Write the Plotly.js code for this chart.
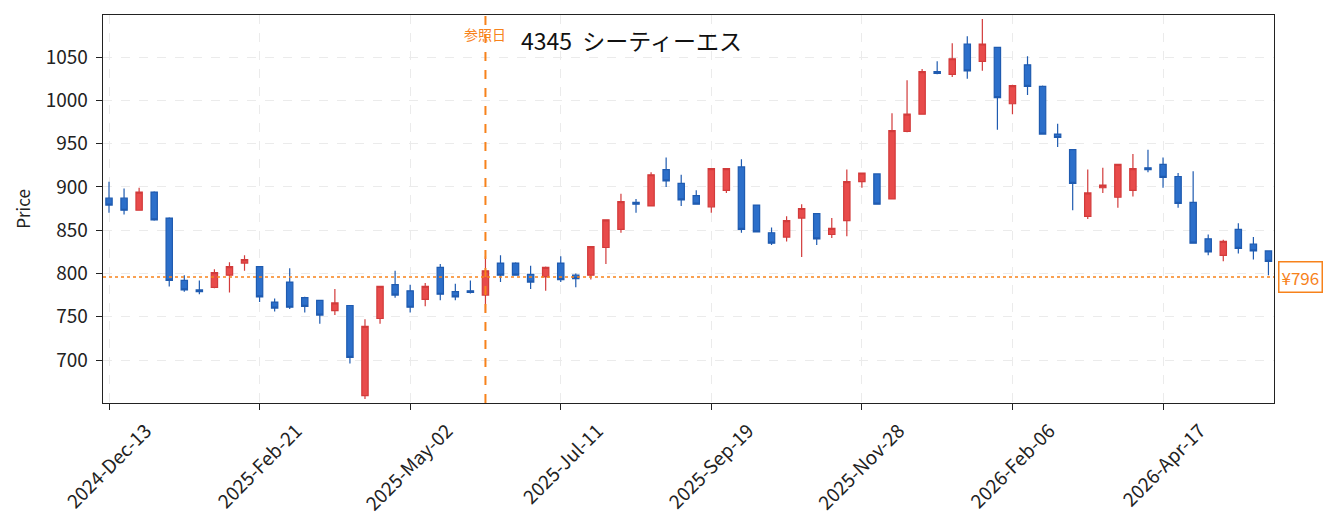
<!DOCTYPE html>
<html>
<head>
<meta charset="utf-8">
<script src="https://cdn.plot.ly/plotly-3.0.1.min.js"></script>
<style>
  html, body { margin: 0; padding: 0; background: #fff; }
  #chart { width: 1339px; height: 531px; }
</style>
</head>
<body>
<div id="chart"></div>
<script>
// weekly candles, first week ending 2024-12-13
const firstWeek = '2024-12-13';
const weekCount = 78;

const openPrices = [887, 887, 873, 894, 864, 792, 781, 784, 798, 812,
  808, 767, 790, 772, 769, 757, 763, 659, 748, 787,
  780, 770, 807, 779, 780, 775, 812, 812, 799, 796,
  812, 798, 798, 830, 851, 882, 878, 920, 904, 890,
  877, 896, 923, 879, 847, 842, 864, 869, 845, 861,
  906, 915, 886, 964, 984, 1033, 1030, 1065, 1045, 1061,
  996, 1041, 1016, 961, 943, 866, 899, 888, 896, 922,
  926, 912, 882, 840, 821, 851, 834, 826];
const highPrices = [906, 898, 899, 895, 865, 798, 792, 805, 813, 821,
  808, 771, 806, 773, 769, 782, 763, 747, 785, 803,
  787, 789, 811, 788, 792, 820, 821, 813, 809, 808,
  820, 800, 831, 862, 892, 886, 917, 934, 914, 896,
  921, 921, 932, 879, 853, 866, 880, 869, 864, 920,
  916, 915, 985, 1023, 1036, 1045, 1066, 1074, 1094, 1061,
  1018, 1051, 1017, 973, 943, 920, 922, 926, 938, 943,
  934, 916, 918, 845, 839, 858, 842, 826];
const lowPrices = [870, 868, 873, 861, 785, 779, 776, 783, 778, 803,
  767, 756, 759, 755, 742, 752, 696, 655, 742, 772,
  755, 762, 769, 769, 777, 755, 790, 798, 782, 780,
  790, 784, 793, 811, 847, 870, 878, 900, 878, 880,
  870, 893, 847, 848, 833, 837, 819, 833, 841, 843,
  899, 880, 886, 963, 984, 1030, 1027, 1025, 1034, 966,
  984, 1006, 961, 946, 873, 863, 893, 876, 889, 917,
  899, 876, 835, 821, 814, 823, 816, 798];
const closePrices = [879, 873, 894, 862, 792, 781, 779, 801, 808, 816,
  773, 760, 761, 762, 752, 766, 703, 739, 785, 775,
  761, 785, 776, 773, 778, 803, 798, 798, 790, 807,
  793, 794, 831, 862, 883, 880, 914, 907, 885, 880,
  921, 921, 851, 848, 835, 861, 875, 840, 852, 906,
  916, 880, 965, 984, 1033, 1031, 1048, 1034, 1065, 1003,
  1017, 1016, 961, 957, 904, 893, 902, 926, 921, 920,
  911, 881, 835, 825, 837, 829, 826, 814];

const referenceDate = '2025-06-06';
const referencePrice = 796;
const chartTitle = '4345  シーティーエス';

const weekDates = [];
const start = new Date(firstWeek + 'T00:00:00Z');
for (let i = 0; i < weekCount; i++) {
  const d = new Date(start.getTime() + i * 7 * 86400000);
  weekDates.push(d.toISOString().slice(0, 10));
}

const font = 'Noto Sans CJK JP, Noto Sans, sans-serif';
const orange = '#f7821b';

const trace = {
  type: 'candlestick',
  x: weekDates,
  open: openPrices,
  high: highPrices,
  low: lowPrices,
  close: closePrices,
  increasing: { fillcolor: '#e84b4b', line: { color: '#d23b3b', width: 1.2 } },
  decreasing: { fillcolor: '#2c6fca', line: { color: '#1f5bb0', width: 1.2 } },
  whiskerwidth: 0,
  hoverinfo: 'x+y'
};

const layout = {
  width: 1339,
  height: 531,
  margin: { l: 103, r: 65, t: 15, b: 128 },
  paper_bgcolor: '#ffffff',
  plot_bgcolor: '#ffffff',
  font: { family: font, size: 17, color: '#222' },
  showlegend: false,
  boxgap: 0.4,
  xaxis: {
    type: 'date',
    range: ['2024-12-10 05:00', '2026-06-07 14:00'],
    tick0: firstWeek,
    dtick: 70 * 86400000,
    tickformat: '%Y-%b-%d',
    tickangle: -45,
    tickfont: { size: 19 },
    ticklabelshift: 37,
    ticklabelstandoff: 2,
    ticks: 'outside',
    ticklen: 6,
    tickcolor: '#222',
    showline: true,
    linecolor: '#222',
    linewidth: 1.3,
    mirror: true,
    showgrid: true,
    gridcolor: '#ebebeb',
    griddash: 'dash',
    zeroline: false,
    rangeslider: { visible: false },
    automargin: false
  },
  yaxis: {
    range: [650.4, 1098.5],
    tickvals: [700, 750, 800, 850, 900, 950, 1000, 1050],
    tickfont: { size: 19 },
    ticklabelstandoff: 4,
    ticks: 'outside',
    ticklen: 6,
    tickcolor: '#222',
    showline: true,
    linecolor: '#222',
    linewidth: 1.3,
    mirror: true,
    showgrid: true,
    gridcolor: '#ebebeb',
    griddash: 'dash',
    zeroline: false,
    title: { text: 'Price', standoff: 10, font: { size: 17 } },
    automargin: false
  },
  shapes: [
    {
      type: 'line', xref: 'x', yref: 'paper',
      x0: referenceDate, x1: referenceDate, y0: 0, y1: 1,
      line: { color: orange, width: 2, dash: 'dash' }
    },
    {
      type: 'line', xref: 'paper', yref: 'y',
      x0: 0, x1: 1, y0: referencePrice, y1: referencePrice,
      line: { color: orange, width: 1.6, dash: 'dot' }
    }
  ],
  annotations: [
    {
      text: chartTitle, xref: 'paper', yref: 'paper',
      x: 0.3553, y: 0.936, xanchor: 'left', yanchor: 'middle',
      showarrow: false, font: { size: 23, color: '#111' }
    },
    {
      text: '参照日', xref: 'x', yref: 'paper',
      x: referenceDate, y: 0.95, xanchor: 'center', yanchor: 'middle',
      showarrow: false, font: { size: 14, color: orange }
    },
    {
      text: '¥' + referencePrice, xref: 'paper', yref: 'y',
      x: 1, y: referencePrice, xanchor: 'left', yanchor: 'middle', xshift: 4,
      showarrow: false, font: { size: 17, color: orange },
      bgcolor: '#ffffff', bordercolor: orange, borderwidth: 1.5, borderpad: 2
    }
  ]
};

Plotly.newPlot('chart', [trace], layout, { displayModeBar: false, staticPlot: true });
</script>
</body>
</html>
